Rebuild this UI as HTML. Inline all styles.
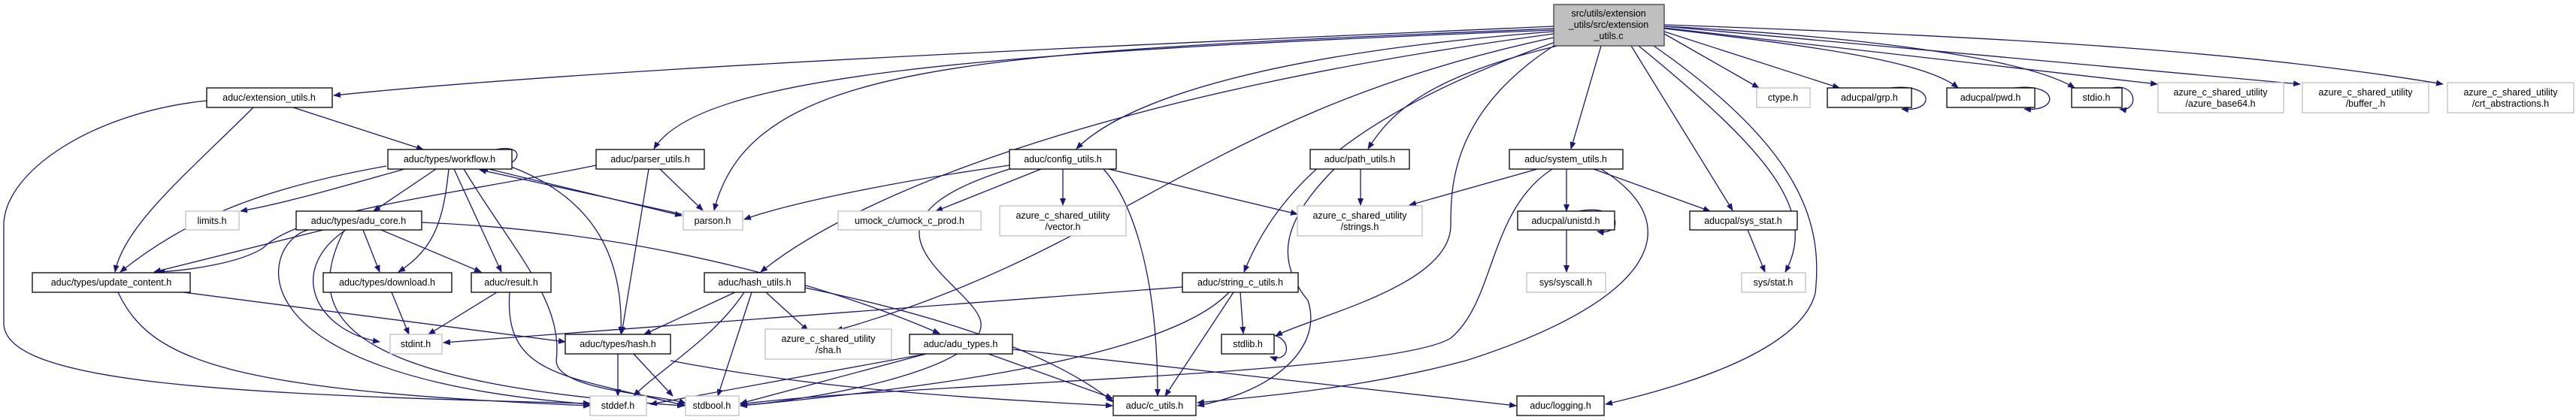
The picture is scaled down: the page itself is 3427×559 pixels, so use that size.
<!DOCTYPE html>
<html><head><meta charset="utf-8"><style>
html,body{margin:0;padding:0;background:#fff;width:3427px;height:559px;overflow:hidden}
svg text{font-family:"Liberation Sans",sans-serif;font-size:12.5px;fill:#000;text-anchor:middle}
.e{fill:none;stroke:#191970;stroke-width:1.3}
.n{fill:#fff;stroke:#000;stroke-width:1.3}
.g{fill:#fff;stroke:#bfbfbf;stroke-width:1.3}
</style></head><body>
<svg width="3427" height="559" viewBox="0 0 3427 559" xmlns="http://www.w3.org/2000/svg">
<defs><marker id="a" markerWidth="10" markerHeight="8" refX="9" refY="4" orient="auto" markerUnits="userSpaceOnUse"><path d="M0,0 L10,4 L0,8 z" fill="#191970"/></marker></defs>
<g class="e" marker-end="url(#a)">
<path d="M2067,35 C1500,60 800,90 444,127"/>
<path d="M2067,38 C1300,70 1000,80 950,280"/>
<path d="M2067,40 C1300,70 930,100 870,198"/>
<path d="M2067,42 C1700,70 1500,130 1432,198"/>
<path d="M2067,45 C1500,120 1150,250 1012,362"/>
<path d="M2067,50 C1600,150 1500,330 1112,440"/>
<path d="M2072,55 C1800,150 1700,250 1655,362"/>
<path d="M2085,58 C1900,100 1850,150 1820,198"/>
<path d="M2067,61 C1930,150 1930,250 1930,300 C1930,380 1750,420 1697,447"/>
<path d="M2130,61 L2090,198"/>
<path d="M2200,61 C2400,200 2425,300 2415,390 C2400,450 2300,500 2136,538"/>
<path d="M2180,61 C2350,200 2420,280 2375,362"/>
<path d="M2170,61 L2305,280"/>
<path d="M2214,45 L2340,117"/>
<path d="M2214,42 L2447,117"/>
<path d="M2214,38 C2400,60 2560,80 2605,117"/>
<path d="M2214,35 C2500,50 2700,80 2760,117"/>
<path d="M2214,37 L2870,112"/>
<path d="M2214,35 L3060,112"/>
<path d="M2214,33 C2700,50 3000,70 3250,112"/>
<path d="M390,143 L563,199"/>
<path d="M337,143 C250,230 165,300 153,362"/>
<path d="M275,134 C120,150 5,230 5,300 L5,430 C5,510 300,525 785,537"/>
<path d="M660,199 C700,190 700,225 640,225"/>
<path d="M538,225 C450,250 380,270 320,281"/>
<path d="M514,221 C350,250 250,290 160,362"/>
<path d="M580,225 L497,281"/>
<path d="M597,225 C590,290 580,330 530,362"/>
<path d="M604,225 L667,362"/>
<path d="M617,225 C680,330 750,400 740,480 C740,520 880,525 912,537"/>
<path d="M680,222 C780,260 830,330 826,444"/>
<path d="M650,225 L907,287"/>
<path d="M907,285 L638,226"/>
<path d="M793,220 C600,260 400,280 350,330 C320,350 250,360 210,362"/>
<path d="M863,225 L827,444"/>
<path d="M878,225 L935,280"/>
<path d="M430,306 L205,362"/>
<path d="M410,306 C350,320 290,500 785,538"/>
<path d="M460,306 C380,360 420,440 505,455"/>
<path d="M458,306 C400,420 450,510 910,540"/>
<path d="M483,306 L505,362"/>
<path d="M507,306 L640,362"/>
<path d="M561,296 C900,310 1150,400 1250,444"/>
<path d="M244,389 L752,455"/>
<path d="M157,389 C200,480 300,520 785,540"/>
<path d="M521,389 L544,445"/>
<path d="M661,389 L570,445"/>
<path d="M678,389 C670,500 750,500 912,540"/>
<path d="M978,389 L857,445"/>
<path d="M990,389 C950,450 880,490 843,527"/>
<path d="M1000,389 L955,527"/>
<path d="M1019,389 L1075,440"/>
<path d="M1071,383 C1250,420 1400,470 1481,535"/>
<path d="M822,471 L822,527"/>
<path d="M843,471 L895,527"/>
<path d="M892,480 C1100,520 1300,530 1480,540"/>
<path d="M1343,220 C1200,240 1050,270 990,292"/>
<path d="M1385,225 L1245,281"/>
<path d="M1414,225 L1414,273"/>
<path d="M1468,225 C1500,260 1540,350 1540,527"/>
<path d="M1475,225 L1726,285"/>
<path d="M1343,225 C1100,300 1300,380 1305,430 C1310,490 1100,530 985,540"/>
<path d="M1810,225 L1810,273"/>
<path d="M1775,225 C1700,300 1700,350 1740,400 C1760,460 1700,520 1593,540"/>
<path d="M2045,225 L1875,273"/>
<path d="M2084,225 L2084,281"/>
<path d="M2120,225 L2275,281"/>
<path d="M2065,225 C1980,280 1990,400 1930,450 C1850,500 1200,510 985,538"/>
<path d="M2130,225 C2250,300 2200,400 1950,480 C1800,520 1650,530 1593,536"/>
<path d="M2100,281 C2160,270 2160,315 2125,308"/>
<path d="M2084,306 L2084,362"/>
<path d="M1573,382 L590,456"/>
<path d="M1650,389 L1654,444"/>
<path d="M1641,389 L1550,527"/>
<path d="M1635,389 C1550,480 1200,520 985,540"/>
<path d="M1680,446 C1720,440 1720,485 1690,475"/>
<path d="M1232,471 L865,538"/>
<path d="M1232,471 L985,537"/>
<path d="M1315,471 L1480,530"/>
<path d="M1347,465 L2017,540"/>
<path d="M2325,306 L2348,362"/>
<path d="M2515,117 C2575,110 2575,150 2530,145"/>
<path d="M2680,117 C2740,110 2740,150 2693,145"/>
<path d="M2810,117 C2845,110 2845,150 2820,145"/>
</g>
<rect x="2067" y="6" width="147" height="55" fill="#bfbfbf" stroke="#404040" stroke-width="1.3"/>
<text x="2140" y="22">src/utils/extension</text><text x="2140" y="37">_utils/src/extension</text><text x="2140" y="52">_utils.c</text>
<rect class="n" x="275" y="117" width="167" height="26"/><text x="358" y="134">aduc/extension_utils.h</text>
<rect class="n" x="516" y="199" width="165" height="26"/><text x="598" y="216">aduc/types/workflow.h</text>
<rect class="n" x="793" y="199" width="144" height="26"/><text x="865" y="216">aduc/parser_utils.h</text>
<rect class="n" x="1343" y="199" width="142" height="26"/><text x="1414" y="216">aduc/config_utils.h</text>
<rect class="n" x="1743" y="199" width="132" height="26"/><text x="1809" y="216">aduc/path_utils.h</text>
<rect class="n" x="2008" y="199" width="151" height="26"/><text x="2083" y="216">aduc/system_utils.h</text>
<rect class="g" x="2337" y="117" width="71" height="26"/><text x="2372" y="134">ctype.h</text>
<rect class="n" x="2431" y="117" width="112" height="26"/><text x="2487" y="134">aducpal/grp.h</text>
<rect class="n" x="2590" y="117" width="117" height="26"/><text x="2648" y="134">aducpal/pwd.h</text>
<rect class="n" x="2756" y="117" width="67" height="26"/><text x="2789" y="134">stdio.h</text>
<rect class="g" x="2871" y="110" width="167" height="40"/><text x="2954" y="127">azure_c_shared_utility</text><text x="2954" y="142">/azure_base64.h</text>
<rect class="g" x="3063" y="110" width="168" height="40"/><text x="3147" y="127">azure_c_shared_utility</text><text x="3147" y="142">/buffer_.h</text>
<rect class="g" x="3256" y="110" width="168" height="40"/><text x="3340" y="127">azure_c_shared_utility</text><text x="3340" y="142">/crt_abstractions.h</text>
<rect class="g" x="247" y="281" width="71" height="25"/><text x="282" y="298">limits.h</text>
<rect class="n" x="394" y="281" width="167" height="25"/><text x="477" y="298">aduc/types/adu_core.h</text>
<rect class="g" x="909" y="281" width="79" height="25"/><text x="948" y="298">parson.h</text>
<rect class="g" x="1115" y="281" width="190" height="25"/><text x="1210" y="298">umock_c/umock_c_prod.h</text>
<rect class="g" x="1330" y="274" width="168" height="40"/><text x="1414" y="291">azure_c_shared_utility</text><text x="1414" y="306">/vector.h</text>
<rect class="g" x="1726" y="274" width="166" height="40"/><text x="1809" y="291">azure_c_shared_utility</text><text x="1809" y="306">/strings.h</text>
<rect class="n" x="2019" y="281" width="129" height="25"/><text x="2083" y="298">aducpal/unistd.h</text>
<rect class="n" x="2248" y="281" width="143" height="25"/><text x="2319" y="298">aducpal/sys_stat.h</text>
<rect class="n" x="43" y="363" width="210" height="26"/><text x="148" y="380">aduc/types/update_content.h</text>
<rect class="n" x="430" y="363" width="171" height="26"/><text x="515" y="380">aduc/types/download.h</text>
<rect class="n" x="627" y="363" width="106" height="26"/><text x="680" y="380">aduc/result.h</text>
<rect class="n" x="937" y="363" width="134" height="26"/><text x="1004" y="380">aduc/hash_utils.h</text>
<rect class="n" x="1573" y="363" width="154" height="26"/><text x="1650" y="380">aduc/string_c_utils.h</text>
<rect class="g" x="2031" y="363" width="105" height="26"/><text x="2083" y="380">sys/syscall.h</text>
<rect class="g" x="2317" y="363" width="85" height="26"/><text x="2359" y="380">sys/stat.h</text>
<rect class="g" x="519" y="445" width="69" height="26"/><text x="553" y="462">stdint.h</text>
<rect class="n" x="752" y="445" width="140" height="26"/><text x="822" y="462">aduc/types/hash.h</text>
<rect class="g" x="1018" y="438" width="168" height="40"/><text x="1102" y="455">azure_c_shared_utility</text><text x="1102" y="470">/sha.h</text>
<rect class="n" x="1210" y="445" width="137" height="26"/><text x="1278" y="462">aduc/adu_types.h</text>
<rect class="n" x="1625" y="445" width="70" height="26"/><text x="1660" y="462">stdlib.h</text>
<rect class="g" x="785" y="527" width="75" height="26"/><text x="822" y="544">stddef.h</text>
<rect class="g" x="912" y="527" width="71" height="26"/><text x="947" y="544">stdbool.h</text>
<rect class="n" x="1481" y="527" width="110" height="26"/><text x="1536" y="544">aduc/c_utils.h</text>
<rect class="n" x="2018" y="527" width="116" height="26"/><text x="2076" y="544">aduc/logging.h</text>
</svg>
</body></html>
